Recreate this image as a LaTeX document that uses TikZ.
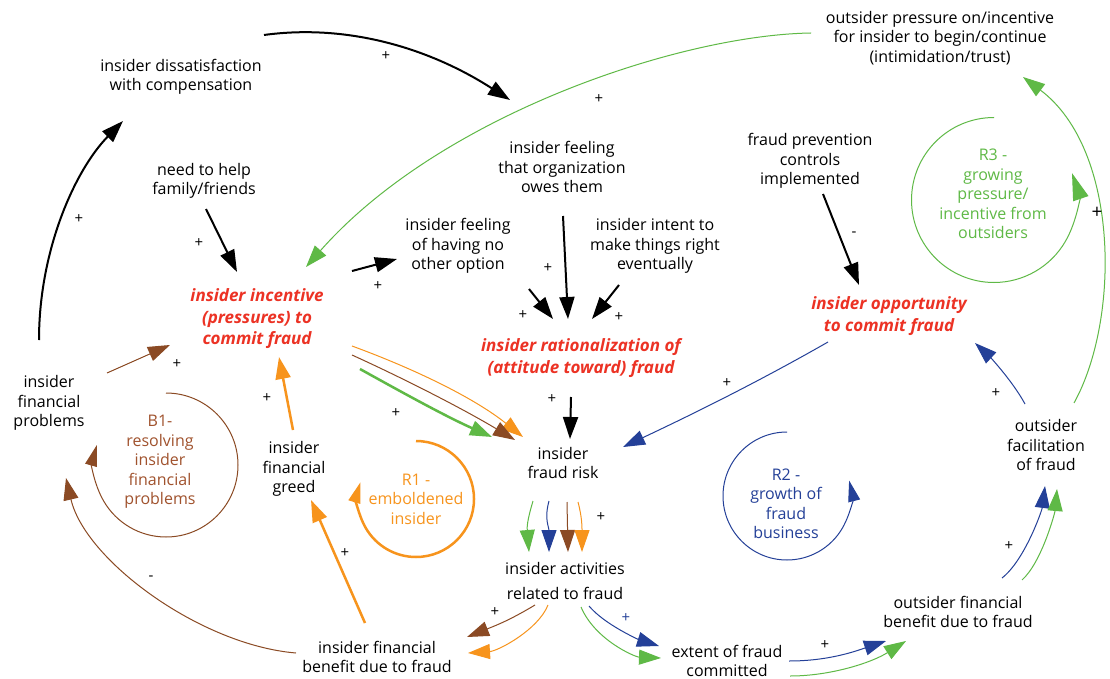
\documentclass[tikz,border=0pt]{standalone}
\usepackage{fontspec}
\setmainfont{Open Sans}
\usetikzlibrary{arrows.meta,calc}
\definecolor{cred}{RGB}{236,50,36}
\definecolor{cbrown}{RGB}{139,74,36}
\definecolor{cbrowntext}{RGB}{160,82,45}
\definecolor{corange}{RGB}{247,148,29}
\definecolor{cgreen}{RGB}{95,185,70}
\definecolor{cblue}{RGB}{36,64,152}
\begin{document}
\begin{tikzpicture}[x=1pt,y=-1pt,
  lab/.style={font=\fontsize{16}{19.5}\selectfont, align=center, inner sep=0pt, text=black},
  key/.style={font=\fontsize{17}{21.5}\selectfont\bfseries\itshape, align=center, inner sep=0pt, text=cred},
  sign/.style={font=\fontsize{15}{15}\selectfont, inner sep=0pt, text=black},
  ar/.style={-{Triangle[length=22pt,width=15pt]}},
  blk/.style={ar, line width=2pt, black},
  grn/.style={ar, line width=1pt, cgreen},
  grnthick/.style={ar, line width=2.5pt, cgreen},
  blu/.style={ar, line width=1pt, cblue},
  brn/.style={ar, line width=1pt, cbrown},
  org/.style={ar, line width=1pt, corange},
  orgthick/.style={ar, line width=2.5pt, corange},
  looptip/.style={-{Triangle[length=21pt,width=12pt]}}
]
\useasboundingbox (0,0) rectangle (1110,679);
\fill[white] (0,0) rectangle (1110,679);

% nodes
\node[lab] (dissat) at (181,77) {insider dissatisfaction\\with compensation};
\node[lab] (outpress) at (940,38) {outsider pressure on/incentive\\for insider to begin/continue\\(intimidation/trust)};
\node[lab] (feelowes) at (562,167) {insider feeling\\that organization\\owes them};
\node[lab] (needhelp) at (204,181) {need to help\\family/friends};
\node[lab] (fraudprev) at (810,161) {fraud prevention\\controls\\implemented};
\node[lab] (nooption) at (458,246) {insider feeling\\of having no\\other option};
\node[lab] (intent) at (655,246) {insider intent to\\make things right\\eventually};
\node[key] (incentive) at (257,319) {insider incentive\\(pressures) to\\commit fraud};
\node[key] (rational) at (581,358) {insider rationalization of\\(attitude toward) fraud};
\node[key] (opportunity) at (889,316) {insider opportunity\\to commit fraud};
\node[lab] (finprob) at (49,403) {insider\\financial\\problems};
\node[lab] (greed) at (294,469) {insider\\financial\\greed};
\node[lab] (risk) at (563,463) {insider\\fraud risk};
\node[lab] (activities) at (565,581) {insider activities\\[6pt]related to fraud};
\node[lab] (benefit) at (377,657) {insider financial\\benefit due to fraud};
\node[lab] (extent) at (727,661) {extent of fraud\\committed};
\node[lab] (outbenefit) at (958,612) {outsider financial\\benefit due to fraud};
\node[lab] (facilitation) at (1046,445) {outsider\\facilitation\\of fraud};
\node[lab, text=cbrowntext] (b1) at (160,462) {B1-\\resolving\\insider\\financial\\problems};
\node[lab, text=corange] (r1) at (416,499) {R1 -\\emboldened\\insider};
\node[lab, text=cblue] (r2) at (786,504) {R2 -\\growth of\\fraud\\business};
\node[lab, text=cgreen] (r3) at (993,194) {R3 -\\growing\\pressure/\\incentive from\\outsiders};

% black connectors
\draw[blk] ($(dissat)+(83,-42)$) .. controls +(80,-11) and +(-84,-54) .. ($(feelowes)+(-52,-67)$);
\draw[blk] ($(finprob)+(-10,-63)$) .. controls +(0,-90) and +(-48,49) .. ($(dissat)+(-58,44)$);
\draw[blk] ($(needhelp)+(2,28)$) -- ($(incentive)+(-20,-47)$);
\draw[blk] ($(incentive)+(95,-48)$) -- ($(nooption)+(-61,13)$);
\draw[blk] ($(nooption)+(71,43)$) -- ($(rational)+(-28,-39)$);
\draw[blk] ($(feelowes)+(1,49)$) -- ($(rational)+(-13,-39)$);
\draw[blk] ($(intent)+(-36,39)$) -- ($(rational)+(11,-39)$);
\draw[blk] ($(fraudprev)+(13,33)$) -- ($(opportunity)+(-30,-31)$);
\draw[blk] ($(rational)+(-10,39)$) -- ($(risk)+(7,-24)$);

% outsider pressure -> incentive
\draw[grn] ($(outpress)+(-129,-5)$) .. controls +(-131,2) and +(134,-152) .. ($(incentive)+(49,-52)$);

% incentive -> risk
\draw[org] ($(incentive)+(95,27)$) .. controls +(60,22) and +(-50,-40) .. ($(risk)+(-40,-26)$);
\draw[brn] ($(incentive)+(95,36)$) .. controls +(55,25) and +(-50,-30) .. ($(risk)+(-48,-23)$);
\draw[grnthick] ($(incentive)+(103,50)$) .. controls +(45,25) and +(-45,-20) .. ($(risk)+(-71,-26)$);

% opportunity -> risk
\draw[blu] ($(opportunity)+(-61,26)$) .. controls +(-70,40) and +(70,-33) .. ($(risk)+(60,-16)$);

% risk -> activities
\draw[grn] ($(risk)+(-30,38)$) .. controls +(-6,20) and +(-2,-25) .. ($(activities)+(-36,-29)$);
\draw[blu] ($(risk)+(-14,38)$) .. controls +(-5,18) and +(0,-25) .. ($(activities)+(-16,-29)$);
\draw[brn] ($(risk)+(4,39)$) -- ($(activities)+(3,-29)$);
\draw[org] ($(risk)+(15,39)$) .. controls +(4,15) and +(0,-25) .. ($(activities)+(17,-29)$);

% activities -> benefit
\draw[brn] ($(activities)+(-30,24)$) .. controls +(-25,15) and +(30,-12) .. ($(benefit)+(90,-20)$);
\draw[org] ($(activities)+(-17,24)$) .. controls +(-10,25) and +(30,-2) .. ($(benefit)+(91,-4)$);

% activities -> extent
\draw[blu] ($(activities)+(24,25)$) .. controls +(16,19) and +(-19,-6) .. ($(extent)+(-68,-15)$);
\draw[grn] ($(activities)+(16,26)$) .. controls +(14,33) and +(-26,-1) .. ($(extent)+(-66,-3)$);

% extent -> outsider benefit
\draw[blu] ($(extent)+(62,0)$) .. controls +(40,0) and +(-30,10) .. ($(outbenefit)+(-72,29)$);
\draw[grn] ($(extent)+(63,15)$) .. controls +(40,0) and +(-35,22) .. ($(outbenefit)+(-52,29)$);

% outsider benefit -> facilitation
\draw[blu] ($(outbenefit)+(44,-34)$) .. controls +(23,-18) and +(-3,24) .. ($(facilitation)+(-1,41)$);
\draw[grn] ($(outbenefit)+(64,-32)$) .. controls +(20,-18) and +(-2,23) .. ($(facilitation)+(11,44)$);

% facilitation -> opportunity, -> outsider pressure
\draw[blu] ($(facilitation)+(-21,-41)$) .. controls +(-13,-24) and +(13,12) .. ($(opportunity)+(86,27)$);
\draw[grn] ($(facilitation)+(28,-42)$) .. controls +(46,-83) and +(97,73) .. ($(outpress)+(83,39)$);

% benefit -> greed -> incentive
\draw[orgthick] ($(benefit)+(-12,-34)$) -- ($(greed)+(17,31)$);
\draw[orgthick] ($(greed)+(-1,-39)$) -- ($(incentive)+(22,38)$);

% financial problems loop
\draw[brn] ($(finprob)+(58,-30)$) -- ($(incentive)+(-87,26)$);
\draw[brn] ($(benefit)+(-81,-4)$) .. controls +(-96,-8) and +(19,82) .. ($(finprob)+(17,75)$);

% loop circles
\draw[cbrown, line width=1pt, looptip] ($(b1)+(6,-69)$) arc[start angle=90, end angle=-196, radius=72pt];
\draw[corange, line width=2.5pt, looptip] ($(r1)+(0,-58)$) arc[start angle=90, end angle=-197, radius=58pt];
\draw[cblue, line width=1pt, looptip] ($(r2)+(1,-72)$) arc[start angle=90, end angle=374, radius=64pt];
\draw[cgreen, line width=1pt, -{Triangle[length=27pt,width=16pt]}] ($(r3)+(1,-76.5)$) arc[start angle=90, end angle=379, radius=82.5pt];

% polarity signs
\node[sign] (s1) at (386,56) {+};
\node[sign] (s2) at (79,219) {+};
\node[sign] (s3) at (599,99) {+};
\node[sign] (s4) at (199,243) {+};
\node[sign] (s5) at (378,286) {+};
\node[sign] (s6) at (548,268) {+};
\node[sign] (s7) at (523,315) {+};
\node[sign] (s8) at (619,317) {+};
\node[sign] (s9) at (854,234) {-};
\node[sign] (s10) at (552,399) {+};
\node[sign] (s11) at (396,413) {+};
\node[sign] (s12) at (727,383) {+};
\node[sign] (s13) at (601,517) {+};
\node[sign] (s14) at (495,612) {+};
\node[sign, text=cblue] (s15) at (626,618) {+};
\node[sign] (s16) at (825,645) {+};
\node[sign] (s17) at (1009,546) {+};
\node[sign] (s18) at (996,393) {+};
\node[sign, font=\fontsize{19}{19}\selectfont] (s19) at (1097,213) {+};
\node[sign] (s20) at (345,553) {+};
\node[sign] (s21) at (267,398) {+};
\node[sign] (s22) at (177,364) {+};
\node[sign] (s23) at (151,578) {-};
\end{tikzpicture}
\end{document}
